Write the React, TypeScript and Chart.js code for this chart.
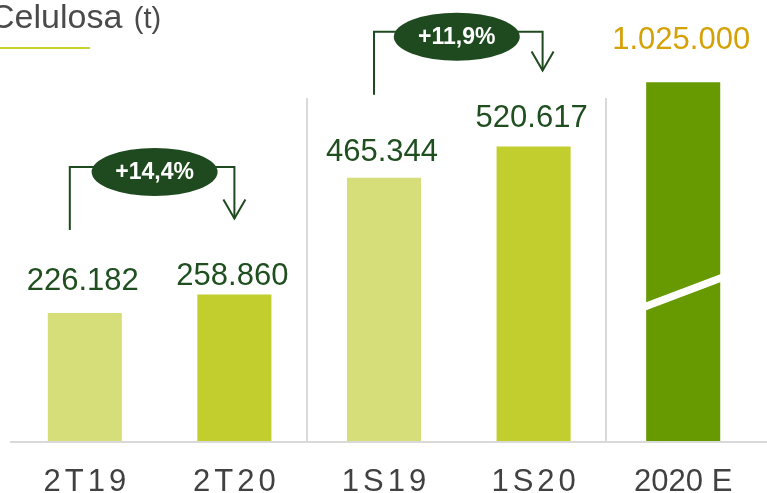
import { useEffect, useRef } from 'react';
import { Chart, registerables } from 'chart.js';

Chart.register(...registerables);

// ---- data ----
const categories = ['2T19', '2T20', '1S19', '1S20', '2020 E'];
const values = [226182, 258860, 465344, 520617, 1025000];
const growthLabels = ['+14,4%', '+11,9%'];
const growthFrom = [0, 2];
const growthTo = [1, 3];
const brokenBarIndex = 4;
const brokenBarCap = 634000; // visible (truncated) height of the 2020 E bar
const breakValue = 263000; // where the break mark crosses the truncated bar
const axisMax = 700000;

const fmt = (v: number) => String(v).replace(/\B(?=(\d{3})+(?!\d))/g, '.');

// ---- styles ----
const FONT = '"Liberation Sans", Arial, sans-serif';
const barColors = ['#d6de79', '#c2ce2e', '#d6de79', '#c2ce2e', '#669a00'];
const valueColor = '#1f4f1f';
const highlightColor = '#d4a106';
const darkGreen = '#1f4a1f';
const labelLift = [23, 10, 17, 19, 33];
const bracketStyle = [
  { dxL: -15, dxR: 0, dxE: -5 },
  { dxL: -10, dxR: 9, dxE: -2 },
];

const overlay = {
  id: 'overlay',
  beforeDatasetsDraw(chart: any) {
    const ctx = chart.ctx;
    const bars = chart.getDatasetMeta(0).data;
    const area = chart.chartArea;
    ctx.save();
    ctx.strokeStyle = '#d9d9d9';
    ctx.lineWidth = 2;
    [[1, 2], [3, 4]].forEach(([a, b]) => {
      const x = Math.round((bars[a].x + bars[b].x) / 2) - 2;
      ctx.beginPath();
      ctx.moveTo(x, 98);
      ctx.lineTo(x, area.bottom);
      ctx.stroke();
    });
    ctx.restore();
  },
  afterDatasetsDraw(chart: any) {
    const ctx = chart.ctx;
    const bars = chart.getDatasetMeta(0).data;
    const y = chart.scales.y;
    const area = chart.chartArea;
    ctx.save();

    // axis line
    ctx.strokeStyle = '#d9d9d9';
    ctx.lineWidth = 2;
    ctx.beginPath();
    ctx.moveTo(10, area.bottom + 1);
    ctx.lineTo(chart.width, area.bottom + 1);
    ctx.stroke();

    // break mark on the truncated bar
    const bb = bars[brokenBarIndex];
    const yb = y.getPixelForValue(breakValue);
    ctx.strokeStyle = '#ffffff';
    ctx.lineWidth = 7.5;
    ctx.beginPath();
    ctx.moveTo(bb.x - bb.width / 2 - 2, yb + 14.8);
    ctx.lineTo(bb.x + bb.width / 2 + 2, yb - 14.8);
    ctx.stroke();

    // value labels
    ctx.textAlign = 'center';
    ctx.textBaseline = 'alphabetic';
    ctx.font = `31px ${FONT}`;
    bars.forEach((bar: any, i: number) => {
      ctx.fillStyle = i === brokenBarIndex ? highlightColor : valueColor;
      ctx.fillText(fmt(values[i]), bar.x - 2, bar.y - labelLift[i]);
    });

    // x labels
    ctx.fillStyle = '#414141';
    ctx.textAlign = 'left';
    categories.forEach((c, i) => {
      const spacing = i === brokenBarIndex ? 0 : 4;
      (ctx as any).letterSpacing = spacing + 'px';
      ctx.font = `31px ${FONT}`;
      const w = ctx.measureText(c).width - spacing;
      ctx.fillText(c, bars[i].x - w / 2, 491);
    });
    (ctx as any).letterSpacing = '0px';

    // growth brackets
    growthLabels.forEach((txt, k) => {
      const a = bars[growthFrom[k]];
      const b = bars[growthTo[k]];
      const st = bracketStyle[k];
      const lineY = a.y - 146;
      const leftBottom = a.y - 83;
      const tipY = b.y - 76;
      const lx = a.x + st.dxL;
      const rx = b.x + st.dxR;
      const ex = (a.x + b.x) / 2 + st.dxE;
      const ey = lineY + 5;
      ctx.strokeStyle = darkGreen;
      ctx.lineWidth = 2;
      ctx.beginPath();
      ctx.moveTo(lx, leftBottom);
      ctx.lineTo(lx, lineY);
      ctx.lineTo(rx, lineY);
      ctx.lineTo(rx, tipY);
      ctx.stroke();
      ctx.beginPath();
      ctx.moveTo(rx - 11, tipY - 19);
      ctx.lineTo(rx, tipY);
      ctx.lineTo(rx + 11, tipY - 19);
      ctx.stroke();
      ctx.fillStyle = darkGreen;
      ctx.beginPath();
      ctx.ellipse(ex, ey, 63, 24, 0, 0, Math.PI * 2);
      ctx.fill();
      ctx.fillStyle = '#ffffff';
      ctx.font = `bold 23px ${FONT}`;
      ctx.textAlign = 'center';
      ctx.textBaseline = 'middle';
      ctx.fillText(txt, ex, ey + 1);
      ctx.textBaseline = 'alphabetic';
    });

    // title
    ctx.textAlign = 'left';
    ctx.fillStyle = '#4a4a4a';
    ctx.font = `34px ${FONT}`;
    ctx.fillText('Celulosa', -10, 28);
    const tw = ctx.measureText('Celulosa ').width;
    ctx.font = `29px ${FONT}`;
    ctx.fillText('(t)', -8 + tw, 28);
    ctx.strokeStyle = '#c5d32b';
    ctx.lineWidth = 2;
    ctx.beginPath();
    ctx.moveTo(0, 48);
    ctx.lineTo(90, 48);
    ctx.stroke();

    ctx.restore();
  },
};

export default function App() {
  const ref = useRef<HTMLCanvasElement>(null);
  useEffect(() => {
    if (!ref.current) return;
    const chart = new Chart(ref.current, {
      type: 'bar',
      data: {
        labels: categories,
        datasets: [
          {
            data: values.map((v, i) => (i === brokenBarIndex ? Math.min(v, brokenBarCap) : v)),
            backgroundColor: barColors,
            borderWidth: 0,
            categoryPercentage: 1,
            barPercentage: 0.495,
          },
        ],
      },
      options: {
        animation: false,
        responsive: true,
        maintainAspectRatio: false,
        layout: { padding: { top: 45, bottom: 52, left: 10, right: 9 } },
        plugins: { legend: { display: false }, tooltip: { enabled: false } },
        scales: {
          x: { display: false },
          y: { display: false, min: 0, max: axisMax },
        },
      },
      plugins: [overlay],
    });
    return () => chart.destroy();
  }, []);
  return (
    <div style={{ position: 'absolute', left: 0, top: 0, width: 767, height: 493, background: '#fff' }}>
      <canvas ref={ref} />
    </div>
  );
}
